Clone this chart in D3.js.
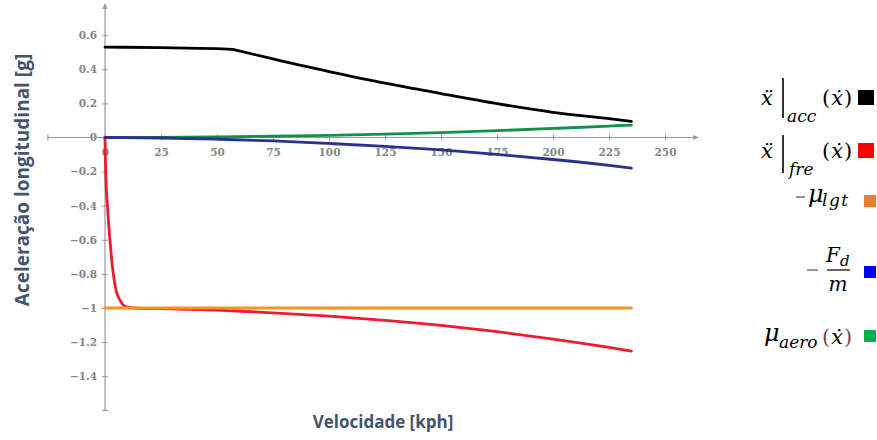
<!DOCTYPE html>
<html>
<head>
<meta charset="utf-8">
<script src="https://cdn.jsdelivr.net/npm/d3@7"></script>
<style>
  html, body { margin: 0; padding: 0; background: #fff; }
  svg { display: block; }
  .tick text { font-family: "DejaVu Serif", serif; font-weight: bold; font-size: 10.5px; fill: #858585; }
  .math { font-family: "DejaVu Serif", serif; font-style: italic; fill: #000; }
</style>
</head>
<body>
<svg id="chart" width="877" height="440"></svg>
<script>
// Longitudinal acceleration envelopes versus speed (kph -> g)
const xTicks = [0, 25, 50, 75, 100, 125, 150, 175, 200, 225, 250];
const yTicks = [0.6, 0.4, 0.2, 0, -0.2, -0.4, -0.6, -0.8, -1, -1.2, -1.4];

// traction-limited / power-limited acceleration (knee at 57 kph)
const accSpeed = [0, 25, 50, 57, 75, 87, 100, 125, 150, 175, 200, 225, 235];
const accValue = [0.53, 0.527, 0.521, 0.517, 0.461, 0.424, 0.387, 0.319, 0.258, 0.199, 0.148, 0.111, 0.095];
const accKnee = 57;

// braking deceleration
const freSpeed = [0, 0.3, 1.1, 2.2, 3.7, 5, 6.5, 8, 10, 13, 25, 50, 75, 100, 125, 150, 175, 200, 225, 235];
const freValue = [0, -0.2, -0.4, -0.6, -0.8, -0.9, -0.95, -0.98, -0.995, -1.0, -1.004, -1.013, -1.028, -1.048, -1.072, -1.102, -1.139, -1.182, -1.231, -1.253];

// longitudinal friction coefficient (negated)
const lgtSpeed = [0, 235];
const lgtValue = [-1, -1];

// drag deceleration
const dragSpeed = [0, 25, 50, 75, 100, 125, 150, 175, 200, 225, 235];
const dragValue = [0, -0.003, -0.010, -0.020, -0.035, -0.052, -0.073, -0.099, -0.129, -0.164, -0.180];

// aerodynamic friction gain
const aeroSpeed = [0, 25, 50, 75, 100, 125, 150, 175, 200, 225, 235];
const aeroValue = [0, 0.001, 0.003, 0.008, 0.013, 0.020, 0.029, 0.040, 0.053, 0.067, 0.073];

const svg = d3.select("#chart");
const x = d3.scaleLinear().domain([0, 250]).range([105, 665]);
const y = d3.scaleLinear().domain([-1.6, 0.6]).range([410.3, 35.2]);
const axisColor = "#9a9a9a";
const fmt = d3.format("~g");

// axes
const gx = svg.append("g").attr("transform", `translate(0,${y(0)})`)
  .call(d3.axisBottom(x).tickValues(xTicks).tickFormat(fmt).tickSize(3).tickPadding(8));
gx.select(".domain").remove();
gx.selectAll(".tick line").attr("y1", -3).attr("y2", 3).attr("stroke", axisColor);

const gy = svg.append("g").attr("transform", `translate(${x(0)},0)`)
  .call(d3.axisLeft(y).tickValues(yTicks).tickFormat(fmt).tickSize(3).tickPadding(5));
gy.select(".domain").remove();
gy.selectAll(".tick line").attr("x1", -3).attr("x2", 3).attr("stroke", axisColor);
gy.selectAll(".tick text").attr("x", -8);

// axis lines with end caps and arrows
const xLeft = x(-25.5), xRight = x(263);
svg.append("line").attr("x1", xLeft).attr("x2", xRight).attr("y1", y(0)).attr("y2", y(0))
  .attr("stroke", axisColor).attr("stroke-width", 1.2);
svg.append("line").attr("x1", xLeft).attr("x2", xLeft).attr("y1", y(0) - 3).attr("y2", y(0) + 3)
  .attr("stroke", axisColor).attr("stroke-width", 1.2);
svg.append("path")
  .attr("d", `M${xRight + 5},${y(0)} L${xRight - 1},${y(0) - 2.6} L${xRight - 1},${y(0) + 2.6} Z`)
  .attr("fill", axisColor);

const yTop = y(0.765);
svg.append("line").attr("x1", x(0)).attr("x2", x(0)).attr("y1", y(-1.6)).attr("y2", yTop)
  .attr("stroke", axisColor).attr("stroke-width", 1.2);
svg.append("line").attr("x1", x(0) - 3).attr("x2", x(0) + 3).attr("y1", y(-1.6)).attr("y2", y(-1.6))
  .attr("stroke", axisColor).attr("stroke-width", 1.2);
svg.append("path")
  .attr("d", `M${x(0)},${yTop - 4} L${x(0) - 2.6},${yTop + 2} L${x(0) + 2.6},${yTop + 2} Z`)
  .attr("fill", axisColor);

// curves
const line = d3.line().x(d => x(d[0])).y(d => y(d[1])).curve(d3.curveMonotoneX);
const zip = (a, b) => a.map((v, i) => [v, b[i]]);
const accPts = zip(accSpeed, accValue);
const series = [
  { pts: accPts.filter(d => d[0] <= accKnee), c: "#000000" },
  { pts: accPts.filter(d => d[0] >= accKnee), c: "#000000" },
  { pts: zip(freSpeed, freValue), c: "#ec1b30" },
  { pts: zip(lgtSpeed, lgtValue), c: "#f7941d" },
  { pts: zip(aeroSpeed, aeroValue), c: "#10904a" },
  { pts: zip(dragSpeed, dragValue), c: "#2b2f8f" }
];
svg.append("g").selectAll("path").data(series).join("path")
  .attr("d", d => line(d.pts))
  .attr("fill", "none").attr("stroke", d => d.c).attr("stroke-width", 2.8)
  .attr("stroke-linejoin", "round").attr("stroke-linecap", "round");

// axis titles
const titleStyle = (sel, size) => sel.attr("font-family", "'Open Sans', sans-serif").attr("font-weight", "bold")
  .attr("font-size", size).attr("fill", "#44546a").attr("text-anchor", "middle");
svg.append("text").call(titleStyle, 17).attr("x", 383).attr("y", 428).text("Velocidade [kph]");
svg.append("text").call(titleStyle, 19).attr("transform", "translate(29,180) rotate(-90)").text("Aceleração longitudinal [g]");

// legend
const lg = svg.append("g");
const opColor = "#7b4a4a";
function mathText(xp, yp, size, txt, anchor, color, spacing) {
  return lg.append("text").attr("class", "math").attr("x", xp).attr("y", yp)
    .attr("font-size", size).attr("text-anchor", anchor || "start")
    .attr("letter-spacing", spacing || 0)
    .attr("fill", color || "#000").text(txt);
}
function argText(xp, yp, parenColor) {
  const t = lg.append("text").attr("class", "math").attr("x", xp).attr("y", yp).attr("font-size", 21);
  t.append("tspan").attr("fill", parenColor).attr("font-style", "normal").text("(");
  t.append("tspan").attr("fill", "#000").attr("dx", 1).text("\u1E8B");
  t.append("tspan").attr("fill", parenColor).attr("font-style", "normal").attr("dx", 1).text(")");
  return t;
}
// item 1: acceleration
mathText(761, 105, 21, "\u1E8D");
lg.append("line").attr("x1", 783).attr("x2", 783).attr("y1", 78).attr("y2", 118).attr("stroke", "#000").attr("stroke-width", 1.6);
mathText(787, 122, 17, "acc");
argText(822, 105, "#000");
lg.append("rect").attr("x", 858).attr("y", 90).attr("width", 16).attr("height", 15).attr("fill", "#000000");
// item 2: braking
mathText(761, 158, 21, "\u1E8D");
lg.append("line").attr("x1", 783).attr("x2", 783).attr("y1", 135).attr("y2", 173).attr("stroke", "#000").attr("stroke-width", 1.6);
mathText(789, 175, 17, "fre");
argText(822, 158, "#000");
lg.append("rect").attr("x", 858).attr("y", 143).attr("width", 16).attr("height", 15).attr("fill", "#ff0000");
// item 3: friction
lg.append("line").attr("x1", 796).attr("x2", 805).attr("y1", 197).attr("y2", 197).attr("stroke", opColor).attr("stroke-width", 1.3);
mathText(808, 202, 24, "\u03BC");
mathText(822, 206, 17, "lgt", "start", "#000", 1.5);
lg.append("rect").attr("x", 864).attr("y", 195).attr("width", 12).attr("height", 12).attr("fill", "#ed7d31");
// item 4: drag
lg.append("line").attr("x1", 807).attr("x2", 818).attr("y1", 270).attr("y2", 270).attr("stroke", opColor).attr("stroke-width", 1.3);
mathText(826, 262, 20, "F");
mathText(840, 266, 15, "d");
lg.append("line").attr("x1", 827).attr("x2", 850).attr("y1", 270).attr("y2", 270).attr("stroke", "#000").attr("stroke-width", 1.2);
mathText(838, 291, 20, "m", "middle");
lg.append("rect").attr("x", 864).attr("y", 266).attr("width", 12).attr("height", 12).attr("fill", "#0000ff");
// item 5: aero
mathText(764, 341, 24, "\u03BC");
mathText(779, 348, 17, "aero");
argText(822, 344, opColor);
lg.append("rect").attr("x", 864).attr("y", 330).attr("width", 12).attr("height", 12).attr("fill", "#00b050");
</script>
</body>
</html>
